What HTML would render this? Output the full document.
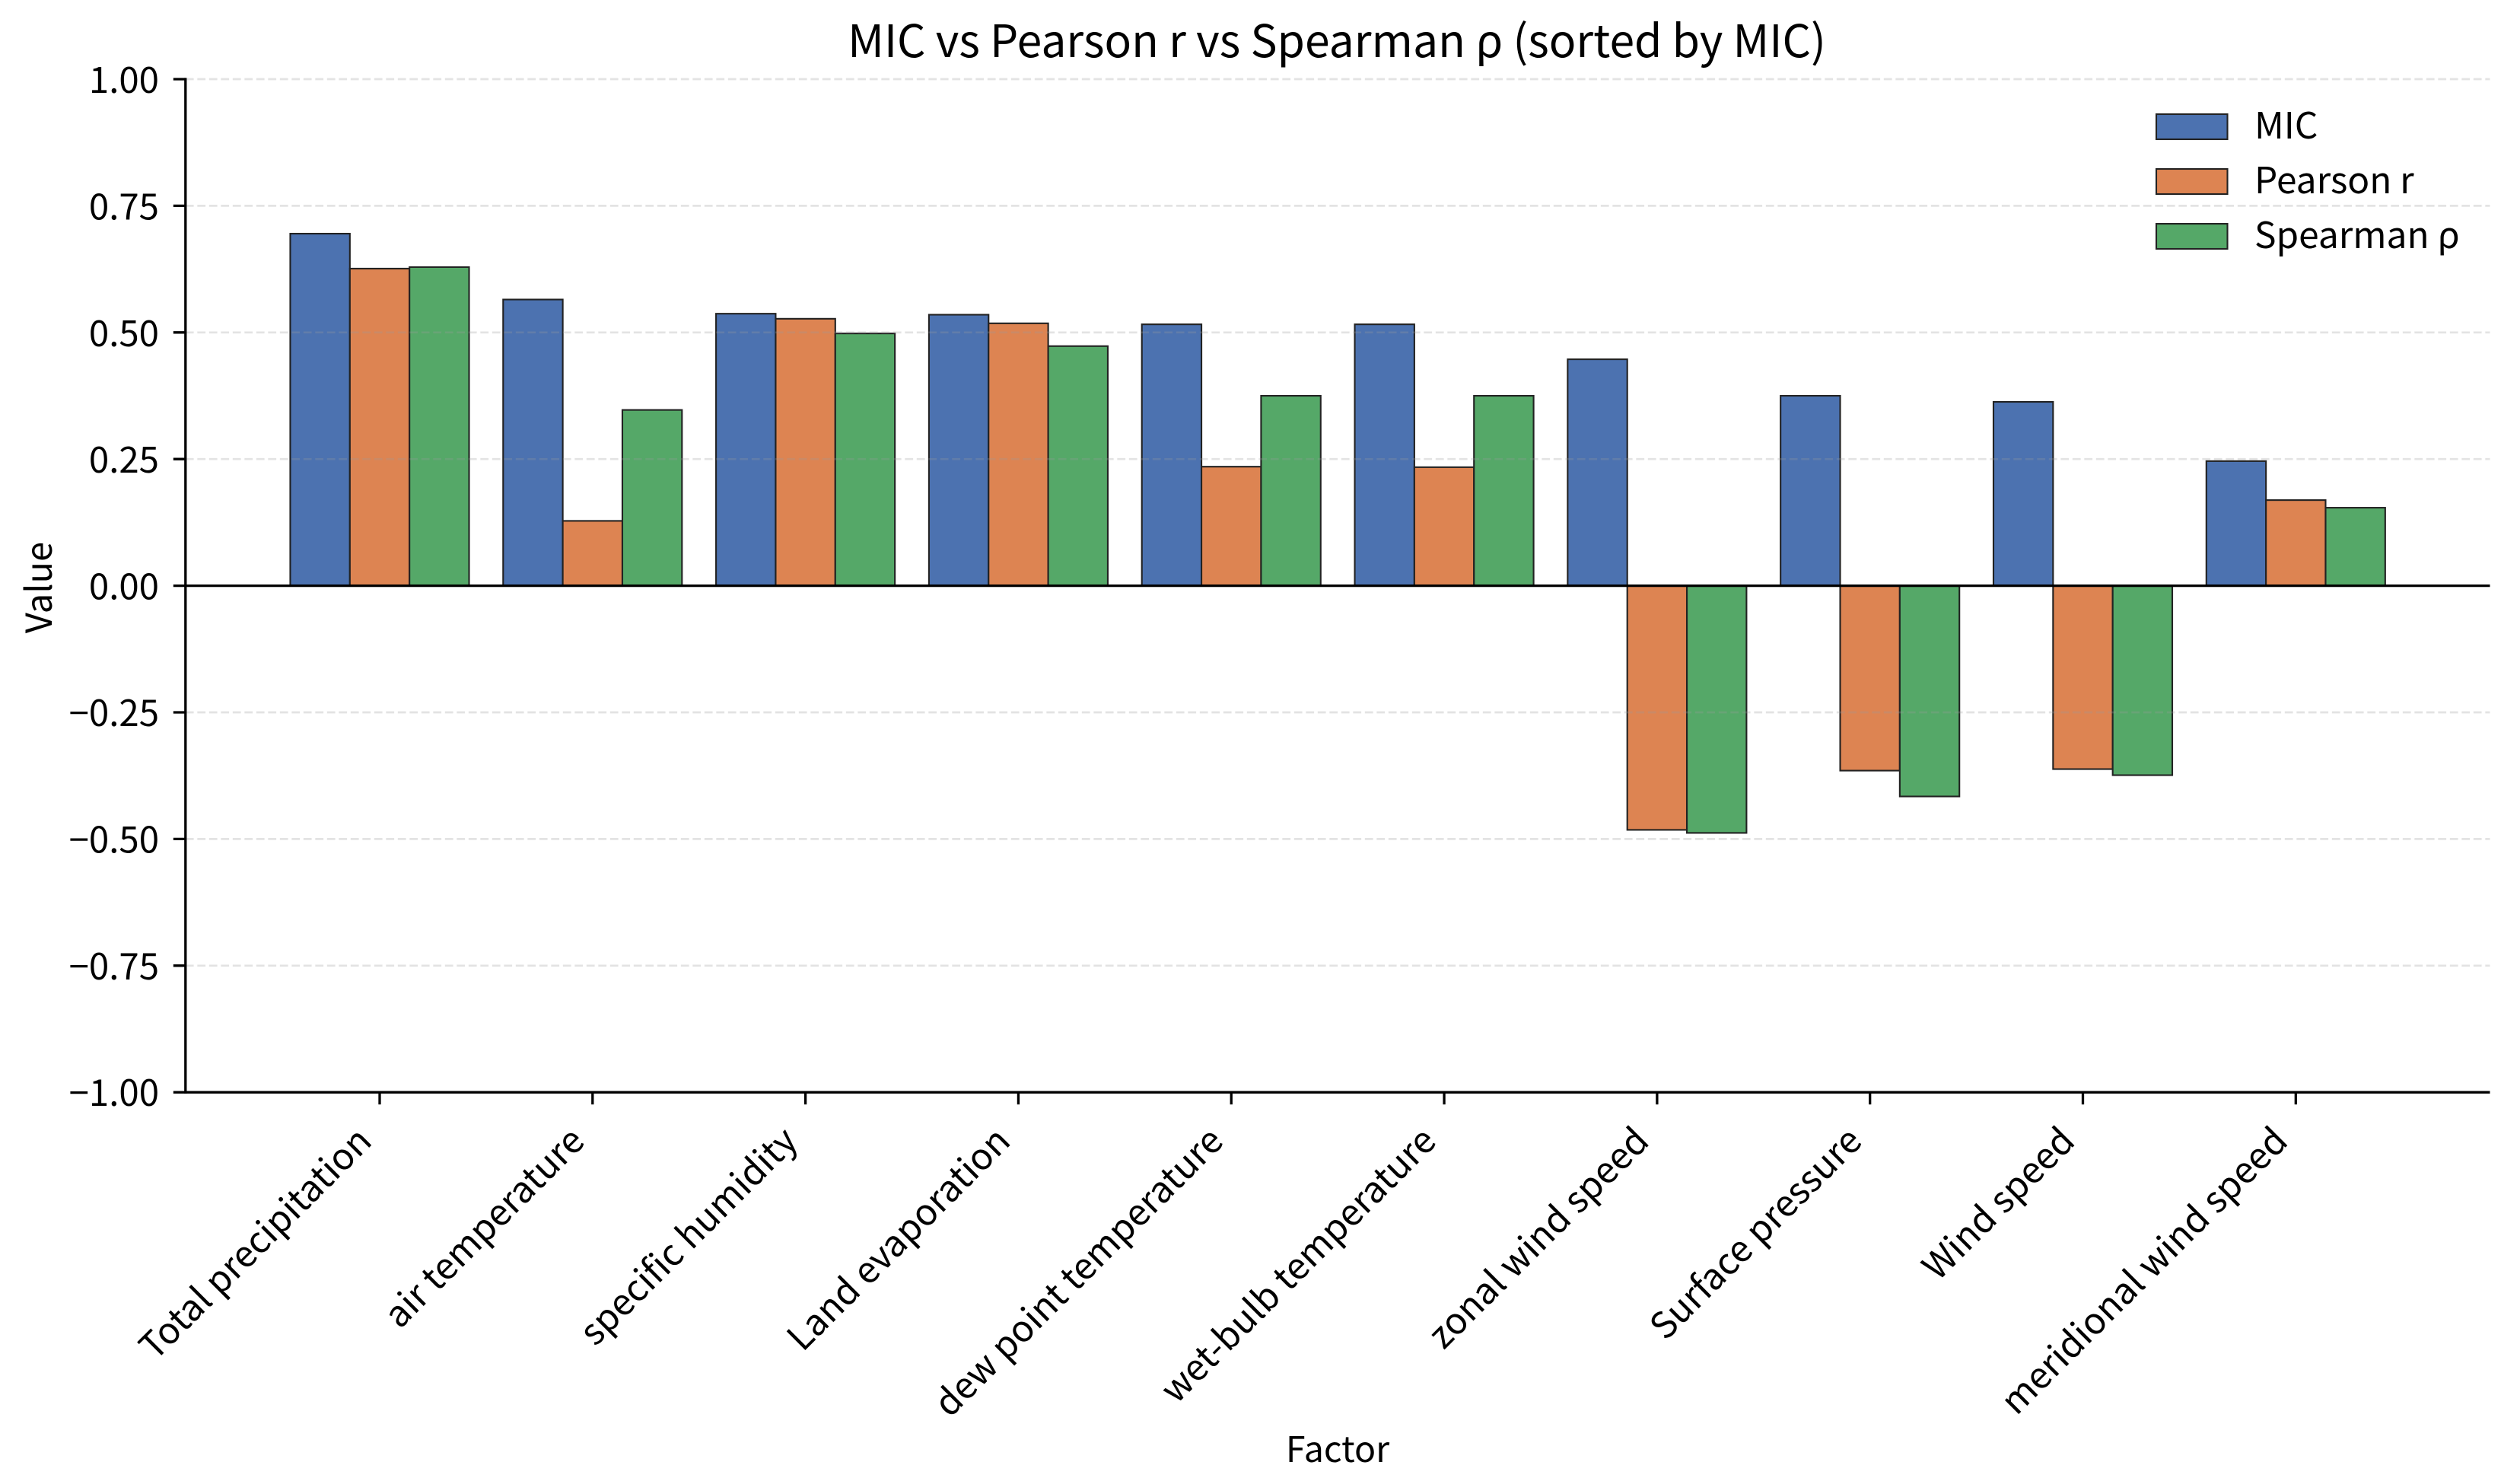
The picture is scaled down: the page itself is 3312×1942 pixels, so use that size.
<!DOCTYPE html>
<html lang="en">
<head>
<meta charset="utf-8">
<title>MIC vs Pearson r vs Spearman ρ</title>
<style>
html,body{margin:0;padding:0;background:#fff;}
svg{display:block;}
text{font-family:"Noto Sans CJK SC","Liberation Sans",sans-serif;fill:#000;}
</style>
</head>
<body>
<svg id="chart" xmlns="http://www.w3.org/2000/svg" width="3312" height="1942" viewBox="0 0 3312 1942">
  <rect x="0" y="0" width="3312" height="1942" fill="#ffffff"/>
  <g id="bars"></g>
  <g id="grid"></g>
  <g id="axes"></g>
  <text x="1757" y="75" text-anchor="middle" font-size="58.8">MIC vs Pearson r vs Spearman ρ (sorted by MIC)</text>
  <text x="1758" y="1921" text-anchor="middle" font-size="46.5">Factor</text>
  <text transform="translate(68 772) rotate(-90)" text-anchor="middle" font-size="47">Value</text>
  <g id="legend"></g>
</svg>
<script>
const categories = ["Total precipitation","air temperature","specific humidity","Land evaporation","dew point temperature","wet-bulb temperature","zonal wind speed","Surface pressure","Wind speed","meridional wind speed"];
const micValues = [0.695,0.565,0.537,0.535,0.516,0.516,0.447,0.375,0.363,0.246];
const pearsonValues = [0.626,0.128,0.527,0.518,0.235,0.234,-0.482,-0.365,-0.362,0.169];
const spearmanValues = [0.629,0.347,0.498,0.473,0.375,0.375,-0.488,-0.416,-0.374,0.154];
const yTickValues = [1,0.75,0.5,0.25,0,-0.25,-0.5,-0.75,-1];
const seriesNames = ["MIC","Pearson r","Spearman ρ"];

const NS = "http://www.w3.org/2000/svg";
const seriesValues = [micValues, pearsonValues, spearmanValues];
const seriesColors = ["#4c72b0","#dd8452","#55a868"];
const seriesKeys = ["mic","pearson","spearman"];

const plotLeft = 243.8, plotRight = 3272.5, plotTop = 104, plotBottom = 1435.2;
const yMin = -1, yMax = 1, xMin = -0.912, xMax = categories.length - 1 + 0.912;
const barWidth = 0.28;
function xScale(v){ return plotLeft + (v - xMin) / (xMax - xMin) * (plotRight - plotLeft); }
function yScale(v){ return plotTop + (yMax - v) / (yMax - yMin) * (plotBottom - plotTop); }
function make(tag, attrs, parent){
  const el = document.createElementNS(NS, tag);
  for (const k in attrs) el.setAttribute(k, attrs[k]);
  parent.appendChild(el);
  return el;
}
function tickText(v){
  return (v < 0 ? "\u2212" : "") + Math.abs(v).toFixed(2);
}

const barsG = document.getElementById("bars");
const gridG = document.getElementById("grid");
const axesG = document.getElementById("axes");
const legendG = document.getElementById("legend");

seriesValues.forEach(function(values, s){
  values.forEach(function(v, i){
    const x0 = xScale(i + (s - 1) * barWidth - barWidth / 2);
    const x1 = xScale(i + (s - 1) * barWidth + barWidth / 2);
    const y0 = yScale(Math.max(v, 0));
    const y1 = yScale(Math.min(v, 0));
    const bar = make("rect", {x:x0, y:y0, width:x1 - x0, height:y1 - y0, fill:seriesColors[s], stroke:"#222222", "stroke-width":2.1}, barsG);
    
    
  });
});

yTickValues.forEach(function(v){
  const y = yScale(v);
  const line = make("line", {x1:plotLeft, x2:plotRight, y1:y, y2:y, stroke:"#999999", "stroke-opacity":0.28, "stroke-width":2.7, "stroke-dasharray":"10.8 4.7"}, gridG);
  
  
  const tick = make("line", {x1:plotLeft - 16, x2:plotLeft, y1:y, y2:y, stroke:"#000", "stroke-width":3.3}, axesG);
  
  
  const label = make("text", {x:209, y:y + 18, "text-anchor":"end", "font-size":47.4}, axesG);
  label.textContent = tickText(v);
  
  
});

const zeroLine = make("line", {x1:plotLeft, x2:plotRight, y1:yScale(0), y2:yScale(0), stroke:"#000", "stroke-width":3.3}, axesG);



const ySpine = make("line", {x1:plotLeft, x2:plotLeft, y1:plotTop - 1.6, y2:plotBottom + 1.6, stroke:"#000", "stroke-width":3.3}, axesG);


const xSpine = make("line", {x1:plotLeft, x2:plotRight, y1:plotBottom, y2:plotBottom, stroke:"#000", "stroke-width":3.3}, axesG);



categories.forEach(function(c, i){
  const x = xScale(i);
  const tick = make("line", {x1:x, x2:x, y1:plotBottom, y2:plotBottom + 16, stroke:"#000", "stroke-width":3.3}, axesG);
  
  
  const label = make("text", {transform:"translate(" + (x - 8) + " 1502) rotate(-45)", "text-anchor":"end", "font-size":47.6}, axesG);
  label.textContent = c;
  
  
});

seriesNames.forEach(function(n, s){
  const top = 150 + s * 72;
  const swatch = make("rect", {x:2834, y:top, width:93.5, height:33, fill:seriesColors[s], stroke:"#222222", "stroke-width":2.1}, legendG);
  
  
  const label = make("text", {x:2963, y:top + 32, "font-size":47.8}, legendG);
  label.textContent = n;
  
  
});
</script>
</body>
</html>
